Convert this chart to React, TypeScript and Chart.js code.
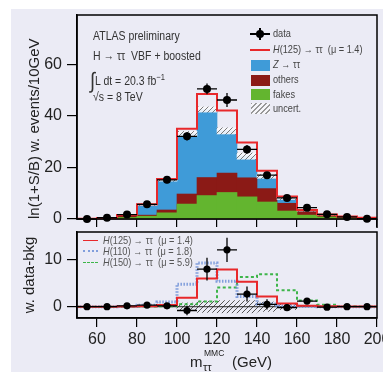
import React, { useEffect, useRef } from "react";
import { Chart, registerables } from "chart.js";

Chart.register(...registerables);

// ---------- data ----------
const binCenters = [55, 65, 75, 85, 95, 105, 115, 125, 135, 145, 155, 165, 175, 185, 195];
const xTickValues = [60, 80, 100, 120, 140, 160, 180, 200];
const mainYTicks = [0, 20, 40, 60];
const ratioYTicks = [0, 10];

// background components (weighted events / 10 GeV)
const fakes = [0.05, 0.2, 0.6, 1.1, 2.4, 5.8, 9.1, 10.3, 8.6, 6.6, 3.1, 1.5, 0.8, 0.4, 0.2];
const others = [0.05, 0.2, 0.6, 0.4, 1.1, 3.9, 7.0, 7.5, 7.4, 5.2, 3.0, 1.4, 0.7, 0.5, 0.2];
const ztautau = [0.0, 0.0, 0.3, 4.1, 11.7, 23.4, 26.4, 16.4, 8.4, 4.7, 1.9, 0.4, 0.1, 0.0, 0.0];
const bkgUncert = [0.05, 0.1, 0.2, 0.3, 0.5, 0.9, 1.0, 1.2, 1.2, 0.7, 0.4, 0.2, 0.1, 0.05, 0.05];

// signal hypotheses
const sigH125 = [0.0, 0.0, 0.05, 0.1, 0.35, 1.9, 6.0, 7.9, 5.3, 2.2, 0.7, 0.2, 0.1, 0.05, 0.05];
const sigH110 = [0.0, 0.0, 0.05, 0.3, 1.0, 4.8, 9.3, 5.4, 2.2, 0.6, 0.2, 0.05, 0.0, 0.0, 0.0];
const sigH150 = [0.0, 0.0, 0.0, 0.05, 0.1, 0.5, 1.1, 4.1, 6.3, 6.9, 3.5, 1.3, 0.4, 0.1, 0.05];

// data
const dataValues = [0.0, 0.5, 1.7, 5.7, 15.2, 32.1, 50.5, 46.2, 27.0, 17.0, 8.2, 4.4, 1.8, 0.8, 0.1];
const dataErrors = [0.2, 0.4, 0.7, 1.0, 1.3, 1.6, 2.1, 2.7, 1.7, 1.2, 0.9, 0.7, 0.5, 0.3, 0.2];
const dataMinusBkg = [0.0, 0.0, 0.2, 0.35, 0.2, -0.8, 8.0, 12.1, 2.7, 0.5, -0.2, 1.2, -0.1, 0.0, 0.0];
const dataMinusBkgErr = [0.1, 0.1, 0.2, 0.3, 0.5, 1.0, 2.4, 2.6, 1.6, 1.1, 0.7, 0.5, 0.3, 0.2, 0.1];
const ratioBandHalf = [0, 0, 0, 0, 0, 0.8, 1.2, 1.3, 1.3, 1.0, 0.6, 0, 0, 0, 0];

// ---------- style ----------
const BG = "#ebebf5";
const TICK_FONT = '"Liberation Sans", Arial, sans-serif';
const C_Z = "#3f9bd8";
const C_OTHERS = "#8b1a16";
const C_FAKES = "#63b52f";
const C_SIG = "#e8282b";
const C_H110 = "rgba(110,145,215,0.85)";
const C_H150 = "#3db54a";

function makeHatch(bg: string | null, line: string) {
  const c = document.createElement("canvas");
  c.width = 5;
  c.height = 5;
  const g = c.getContext("2d")!;
  if (bg) {
    g.fillStyle = bg;
    g.fillRect(0, 0, 5, 5);
  }
  g.strokeStyle = line;
  g.lineWidth = 1;
  g.beginPath();
  g.moveTo(-1, 6);
  g.lineTo(6, -1);
  g.moveTo(-1, 1);
  g.lineTo(1, -1);
  g.moveTo(4, 6);
  g.lineTo(6, 4);
  g.stroke();
  return g.createPattern(c, "repeat")!;
}

function errorBarPlugin(id: string, values: number[], errors: number[]) {
  return {
    id,
    afterDatasetsDraw(chart: any) {
      const { ctx, scales } = chart;
      const xs = scales.x;
      const ys = scales.y;
      ctx.save();
      ctx.strokeStyle = "#000";
      ctx.lineWidth = 1.3;
      ctx.beginPath();
      binCenters.forEach((c, i) => {
        const x0 = xs.getPixelForValue(c - 5);
        const x1 = xs.getPixelForValue(c + 5);
        const xc = xs.getPixelForValue(c);
        const y = ys.getPixelForValue(values[i]);
        const ya = ys.getPixelForValue(values[i] - errors[i]);
        const yb = ys.getPixelForValue(values[i] + errors[i]);
        ctx.moveTo(x0, y);
        ctx.lineTo(x1, y);
        ctx.moveTo(xc, ya);
        ctx.lineTo(xc, yb);
      });
      ctx.stroke();
      ctx.restore();
    },
  };
}

function framePlugin(extend: number) {
  return {
    id: "frame",
    afterDraw(chart: any) {
      const { ctx, chartArea: a } = chart;
      ctx.save();
      ctx.strokeStyle = "#000";
      ctx.lineWidth = 1.5;
      ctx.strokeRect(a.left, a.top, a.right - a.left, a.bottom - a.top);
      if (extend) {
        ctx.beginPath();
        ctx.moveTo(a.right, a.bottom);
        ctx.lineTo(a.right, a.bottom + extend);
        ctx.stroke();
      }
      ctx.restore();
    },
  };
}

const edges = [...binCenters.map((c) => c - 5), binCenters[binCenters.length - 1] + 5];
const stepPoints = (vals: number[]) =>
  edges.map((e, i) => ({ x: e, y: vals[Math.min(i, vals.length - 1)] }));
const binPoints = (vals: number[]) => binCenters.map((c, i) => ({ x: c, y: vals[i] }));

function xAxis(showLabels: boolean, height: number, tickLength: number) {
  return {
    type: "linear",
    min: 50,
    max: 200,
    offset: false,
    afterBuildTicks: (s: any) => {
      s.ticks = xTickValues.map((v) => ({ value: v }));
    },
    afterFit: (s: any) => {
      s.height = height;
      s.paddingLeft = 0;
      s.paddingRight = 0;
    },
    grid: {
      offset: false,
      drawOnChartArea: false,
      drawTicks: true,
      tickLength,
      tickColor: "#000",
      lineWidth: 1.2,
    },
    border: { display: true, color: "#000", width: 1.5 },
    ticks: {
      display: showLabels,
      padding: 3,
      color: "#222",
      maxRotation: 0,
      autoSkip: false,
      font: { family: TICK_FONT, size: 16 },
    },
  };
}

function yAxis(min: number, max: number, tickVals: number[], title: string, titlePad: number, align: string) {
  return {
    min,
    max,
    afterBuildTicks: (s: any) => {
      s.ticks = tickVals.map((v) => ({ value: v }));
    },
    afterFit: (s: any) => {
      s.width = 77;
      s.paddingTop = 0;
      s.paddingBottom = 0;
    },
    grid: {
      drawOnChartArea: false,
      drawTicks: true,
      tickLength: 10,
      tickColor: "#000",
      lineWidth: 1.2,
    },
    border: { display: true, color: "#000", width: 1.5 },
    ticks: { padding: 5, color: "#222", font: { family: TICK_FONT, size: 16 } },
    title: {
      display: true,
      text: title,
      align,
      padding: { top: titlePad, bottom: 0 },
      color: "#222",
      font: { family: TICK_FONT, size: 15 },
    },
  };
}

export default function App() {
  const mainRef = useRef<HTMLCanvasElement>(null);
  const ratioRef = useRef<HTMLCanvasElement>(null);

  useEffect(() => {
    const charts: Chart[] = [];
    const bandMain = makeHatch("rgba(248,248,252,0.9)", "#7a7a7a");
    const bandRatio = makeHatch(null, "#555");

    const fakesTop = fakes.map((v) => v);
    const othersTop = fakes.map((v, i) => v + others[i]);
    const bkgTop = othersTop.map((v, i) => v + ztautau[i]);
    const totalTop = bkgTop.map((v, i) => v + sigH125[i]);

    const barCommon = {
      type: "bar",
      barPercentage: 1,
      categoryPercentage: 1,
      grouped: false,
      borderWidth: 0,
    };

    if (mainRef.current) {
      charts.push(
        new Chart(mainRef.current, {
          type: "bar",
          data: {
            datasets: [
              {
                type: "line",
                label: "data",
                data: binPoints(dataValues),
                showLine: false,
                pointRadius: 4,
                pointBackgroundColor: "#000",
                pointBorderWidth: 0,
                clip: 12,
              },
              {
                type: "line",
                label: "H(125)",
                data: stepPoints(totalTop),
                stepped: "before",
                borderColor: C_SIG,
                borderWidth: 2,
                pointRadius: 0,
                fill: false,
              },
              {
                ...barCommon,
                label: "uncert.",
                data: binCenters.map((c, i) => ({ x: c, y: [bkgTop[i] - bkgUncert[i], bkgTop[i] + bkgUncert[i]] })),
                backgroundColor: bandMain,
              },
              { ...barCommon, label: "fakes", data: binPoints(fakesTop), backgroundColor: C_FAKES },
              { ...barCommon, label: "others", data: binPoints(othersTop), backgroundColor: C_OTHERS },
              { ...barCommon, label: "Z", data: binPoints(bkgTop), backgroundColor: C_Z },
            ] as any,
          },
          options: {
            responsive: false,
            animation: false,
            devicePixelRatio: 1,
            events: [],
            layout: { padding: { left: 0, top: 15, right: 6, bottom: 143 } },
            plugins: { legend: { display: false }, tooltip: { enabled: false } },
            scales: {
              x: xAxis(false, 10, 8) as any,
              y: yAxis(0, 79.2, mainYTicks, "ln(1+S/B) w. events/10GeV", 26, "start") as any,
            },
          },
          plugins: [errorBarPlugin("errMain", dataValues, dataErrors), framePlugin(9)],
        } as any)
      );
    }

    if (ratioRef.current) {
      charts.push(
        new Chart(ratioRef.current, {
          type: "bar",
          data: {
            datasets: [
              {
                type: "line",
                label: "data-bkg",
                data: binPoints(dataMinusBkg),
                showLine: false,
                pointRadius: 3.6,
                pointBackgroundColor: "#000",
                pointBorderWidth: 0,
                clip: 12,
              },
              {
                type: "line",
                label: "H125",
                data: stepPoints(sigH125),
                stepped: "before",
                borderColor: C_SIG,
                borderWidth: 2,
                pointRadius: 0,
              },
              {
                type: "line",
                label: "H110",
                data: stepPoints(sigH110),
                stepped: "before",
                borderColor: C_H110,
                borderWidth: 3,
                borderDash: [1.5, 1.5],
                pointRadius: 0,
              },
              {
                type: "line",
                label: "H150",
                data: stepPoints(sigH150),
                stepped: "before",
                borderColor: C_H150,
                borderWidth: 2,
                borderDash: [3, 2.5],
                pointRadius: 0,
              },
              {
                type: "line",
                label: "zero",
                data: [
                  { x: 50, y: 0 },
                  { x: 200, y: 0 },
                ],
                borderColor: "#222",
                borderWidth: 1,
                pointRadius: 0,
              },
              {
                ...barCommon,
                label: "band",
                data: binCenters.map((c, i) => ({ x: c, y: [-ratioBandHalf[i], ratioBandHalf[i]] })),
                backgroundColor: bandRatio,
              },
            ] as any,
          },
          options: {
            responsive: false,
            animation: false,
            devicePixelRatio: 1,
            events: [],
            layout: { padding: { left: 0, top: 232, right: 6, bottom: 0 } },
            plugins: { legend: { display: false }, tooltip: { enabled: false } },
            scales: {
              x: xAxis(true, 54, 9) as any,
              y: yAxis(-2.4, 15.9, ratioYTicks, "w. data-bkg", 21, "center") as any,
            },
          },
          plugins: [errorBarPlugin("errRatio", dataMinusBkg, dataMinusBkgErr), framePlugin(0)],
        } as any)
      );
    }

    return () => charts.forEach((c) => c.destroy());
  }, []);

  const abs = (x: number, y: number, size: number, sx: number, extra: any = {}) => ({
    position: "absolute" as const,
    left: x,
    top: y - size / 2,
    fontSize: size,
    lineHeight: `${size}px`,
    whiteSpace: "nowrap" as const,
    fontFamily: TICK_FONT,
    color: "#333",
    transform: `scaleX(${sx})`,
    transformOrigin: "left center",
    ...extra,
  });

  const legRowY = [34, 50, 65, 80, 94.5, 108.5];
  const box = (y: number, bg: string) => (
    <div style={{ position: "absolute", left: 251, top: y - 5.5, width: 19, height: 11, background: bg }} />
  );
  const LS = 11.5;
  const LX = 0.8;
  const RS = 11;
  const RX = 0.84;

  return (
    <div style={{ position: "absolute", left: 0, top: 0, width: 383, height: 372, background: "#fff", overflow: "hidden" }}>
      <div style={{ position: "absolute", left: 11, top: 9, width: 372, height: 363, background: BG }} />
      <canvas ref={mainRef} width={383} height={372} style={{ position: "absolute", left: 0, top: 0 }} />
      <canvas ref={ratioRef} width={383} height={372} style={{ position: "absolute", left: 0, top: 0 }} />

      {/* ATLAS label */}
      <div style={abs(93, 36, 12.5, 0.84)}>ATLAS preliminary</div>
      <div style={abs(93, 56, 12.5, 0.84)}>H → ττ&nbsp;&nbsp;VBF + boosted</div>
      <div style={abs(90, 77, 12.5, 0.84)}>
        <span style={{ fontSize: 22, position: "relative", top: 3 }}>∫</span>L dt = 20.3 fb<sup style={{ fontSize: 9 }}>−1</sup>
      </div>
      <div style={abs(93, 97, 12.5, 0.84)}>√s = 8 TeV</div>

      {/* main legend */}
      <div style={{ position: "absolute", left: 250, top: legRowY[0] - 0.7, width: 20, height: 1.4, background: "#000" }} />
      <div style={{ position: "absolute", left: 256, top: legRowY[0] - 4, width: 8, height: 8, borderRadius: 4, background: "#000" }} />
      <div style={{ position: "absolute", left: 259.3, top: legRowY[0] - 6, width: 1.4, height: 12, background: "#000" }} />
      <div style={{ position: "absolute", left: 250, top: legRowY[1] - 1, width: 20, height: 2, background: C_SIG }} />
      {box(legRowY[2], C_Z)}
      {box(legRowY[3], C_OTHERS)}
      {box(legRowY[4], C_FAKES)}
      <div
        style={{
          position: "absolute",
          left: 251,
          top: legRowY[5] - 5.5,
          width: 19,
          height: 11,
          background: "repeating-linear-gradient(135deg, #999 0px, #999 1px, #f6f6fa 1px, #f6f6fa 3.5px)",
        }}
      />
      <div style={abs(273, legRowY[0], LS, LX, { color: "#444" })}>data</div>
      <div style={abs(273, legRowY[1], LS, LX, { color: "#444" })}>
        <i>H</i>(125) → ττ&nbsp;&nbsp;(μ = 1.4)
      </div>
      <div style={abs(273, legRowY[2], LS, LX, { color: "#444" })}>
        <i>Z</i> → ττ
      </div>
      <div style={abs(273, legRowY[3], LS, LX, { color: "#444" })}>others</div>
      <div style={abs(273, legRowY[4], LS, LX, { color: "#444" })}>fakes</div>
      <div style={abs(273, legRowY[5], LS, LX, { color: "#444" })}>uncert.</div>

      {/* ratio legend */}
      <div style={{ position: "absolute", left: 83, top: 239.5, width: 15, height: 1.6, background: C_SIG }} />
      <div style={{ position: "absolute", left: 83, top: 250, width: 15, height: 0, borderTop: `2.5px dotted ${C_H110}` }} />
      <div style={{ position: "absolute", left: 83, top: 261.5, width: 15, height: 0, borderTop: `1.5px dashed ${C_H150}` }} />
      <div style={abs(103, 240.5, RS, RX, { color: "#555" })}>
        <i>H</i>(125) → ττ&nbsp;&nbsp;(μ = 1.4)
      </div>
      <div style={abs(103, 251.5, RS, RX, { color: "#555" })}>
        <i>H</i>(110) → ττ&nbsp;&nbsp;(μ = 1.8)
      </div>
      <div style={abs(103, 262.5, RS, RX, { color: "#555" })}>
        <i>H</i>(150) → ττ&nbsp;&nbsp;(μ = 5.9)
      </div>

      {/* x axis title */}
      <div style={{ position: "absolute", left: 190, top: 354, fontSize: 15, lineHeight: "15px", fontFamily: TICK_FONT, color: "#222" }}>m</div>
      <div style={{ position: "absolute", left: 204, top: 349, fontSize: 8.5, lineHeight: "9px", fontFamily: TICK_FONT, color: "#222" }}>MMC</div>
      <div style={{ position: "absolute", left: 203, top: 362, fontSize: 11, lineHeight: "11px", fontFamily: TICK_FONT, color: "#222" }}>ττ</div>
      <div style={{ position: "absolute", left: 232, top: 354, fontSize: 15, lineHeight: "15px", fontFamily: TICK_FONT, color: "#222" }}>(GeV)</div>
    </div>
  );
}
